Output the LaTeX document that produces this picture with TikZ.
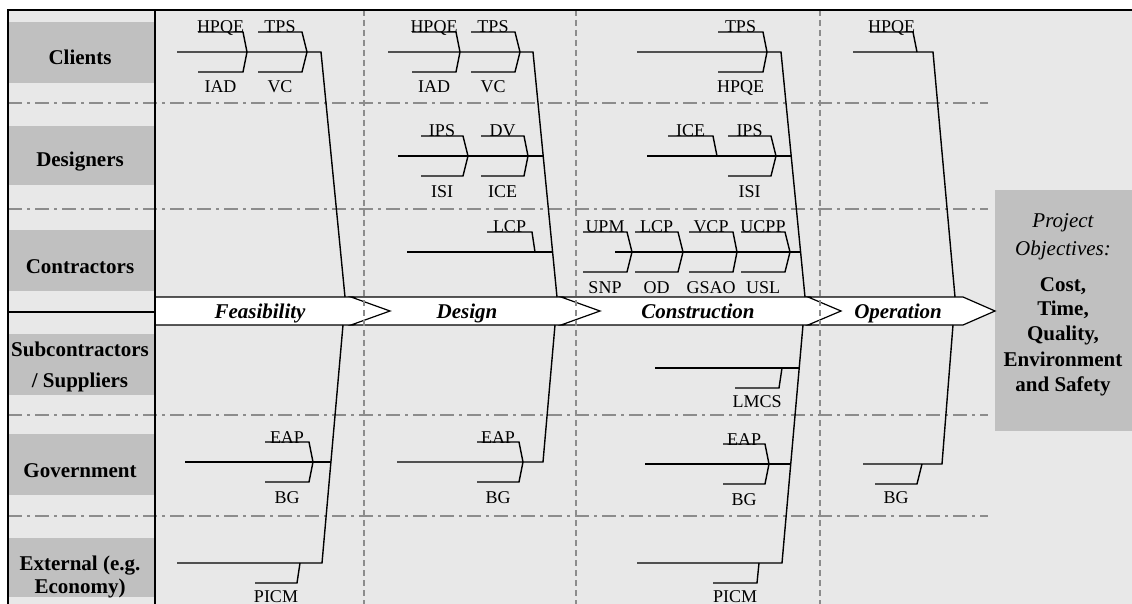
\documentclass[tikz,border=0pt]{standalone}
\usepackage{fontspec}
\setmainfont{Liberation Serif}
\definecolor{bggray}{HTML}{E8E8E8}
\definecolor{boxgray}{HTML}{C0C0C0}
\definecolor{dashgray}{HTML}{8C8C8C}
\tikzset{
  bone/.style={line width=1.4pt, line join=miter},
  sm/.style={font=\fontsize{18}{20}\selectfont, inner sep=0pt},
  lbl/.style={font=\fontsize{21}{24}\selectfont\bfseries, inner sep=0pt},
  obj/.style={font=\fontsize{21}{24}\selectfont\itshape, inner sep=0pt},
  phase/.style={font=\fontsize{21}{24}\selectfont\bfseries\itshape, inner sep=0pt},
  rowbox/.style={fill=boxgray, draw=none},
  dashdotline/.style={draw=dashgray, line width=1.3pt, dash pattern=on 14pt off 5pt on 3pt off 5pt},
  vdash/.style={draw=dashgray, line width=1.1pt, dash pattern=on 6pt off 4pt},
  band/.style={draw=black, fill=white, line width=1.2pt, line join=miter},
  frame/.style={line width=1.5pt}
}
% two-sided bracket: name, x left, x right, x tip, y mid, top label, bottom label
\newcommand{\brk}[7]{%
  \draw[bone] (#2,#5-20) -- (#3,#5-20) -- (#4,#5) -- (#3,#5+20) -- (#2,#5+20);
  \node[sm,anchor=base] (#1t) at ({(#2+#3)/2},#5-19) {#6};
  \node[sm,anchor=base] (#1b) at ({(#2+#3)/2},#5+41) {#7};
}
% top-only bracket
\newcommand{\tbr}[6]{%
  \draw[bone] (#2,#5-20) -- (#3,#5-20) -- (#4,#5);
  \node[sm,anchor=base] (#1t) at ({(#2+#3)/2},#5-19) {#6};
}
% bottom-only bracket
\newcommand{\bbr}[6]{%
  \draw[bone] (#4,#5) -- (#3,#5+20) -- (#2,#5+20);
  \node[sm,anchor=base] (#1b) at ({(#2+#3)/2},#5+39) {#6};
}
\begin{document}
\begin{tikzpicture}[x=1pt,y=-1pt]
\useasboundingbox (0,0) rectangle (1132,604);
% background
\fill[bggray] (8,10) rectangle (1132,604);
% row label boxes
\fill[rowbox] (9,22) rectangle (155,83);
\fill[rowbox] (9,126) rectangle (155,185);
\fill[rowbox] (9,230) rectangle (155,291);
\fill[rowbox] (9,334) rectangle (155,395);
\fill[rowbox] (9,434) rectangle (155,495);
\fill[rowbox] (9,538) rectangle (155,597);
\fill[rowbox] (995,190) rectangle (1132,431);
% horizontal dash-dot separators
\foreach \yy in {103,209,415,516} \draw[dashdotline] (8,\yy) -- (988,\yy);
% row labels
\node[lbl,anchor=base] (lc) at (80,65) {Clients};
\node[lbl,anchor=base] (ld) at (80,167) {Designers};
\node[lbl,anchor=base] (lk) at (80,273) {Contractors};
\node[lbl,anchor=base] (ls1) at (80,356) {Subcontractors};
\node[lbl,anchor=base] (ls2) at (80,387) {/ Suppliers};
\node[lbl,anchor=base] (lg) at (80,477) {Government};
\node[lbl,anchor=base] (le1) at (80,570) {External (e.g.};
\node[lbl,anchor=base] (le2) at (80,593) {Economy)};
% objectives
\node[obj,anchor=base] (po1) at (1063,228) {Project};
\node[obj,anchor=base] (po2) at (1063,255) {Objectives:};
\node[lbl,anchor=base] (po3) at (1063,291) {Cost,};
\node[lbl,anchor=base] (po4) at (1063,315) {Time,};
\node[lbl,anchor=base] (po5) at (1063,340) {Quality,};
\node[lbl,anchor=base] (po6) at (1063,366) {Environment};
\node[lbl,anchor=base] (po7) at (1063,391) {and Safety};
% phase band
\draw[band] (155,297) -- (353,297) -- (392,311) -- (353,325) -- (155,325) -- cycle;
\draw[band] (351,297) -- (563,297) -- (602,311) -- (563,325) -- (351,325) -- (390,311) -- cycle;
\draw[band] (561,297) -- (810,297) -- (843,311) -- (810,325) -- (561,325) -- (600,311) -- cycle;
\draw[band] (808,297) -- (963,297) -- (995,311) -- (963,325) -- (808,325) -- (841,311) -- cycle;
\node[phase,anchor=base] (ph1) at (260,318) {Feasibility};
\node[phase,anchor=base] (ph2) at (467,318) {Design};
\node[phase,anchor=base] (ph3) at (698,318) {Construction};
\node[phase,anchor=base] (ph4) at (898,318) {Operation};
% spine coordinates
\coordinate (p1t) at (321,52);  \coordinate (p1u) at (345,297);
\coordinate (p1d) at (343,325); \coordinate (p1b) at (322,563);
\coordinate (p2t) at (533,52);  \coordinate (p2u) at (557,297);
\coordinate (p2d) at (555,325); \coordinate (p2b) at (543,462);
\coordinate (p3t) at (781,52);  \coordinate (p3u) at (805,297);
\coordinate (p3d) at (803,325); \coordinate (p3b) at (782,563);
\coordinate (p4t) at (933,52);  \coordinate (p4u) at (955,297);
\coordinate (p4d) at (953,325); \coordinate (p4b) at (942,464);
% ---- Feasibility
\draw[bone] (177,52) -- (p1t) -- (p1u);
\brk{f1a}{198}{243}{247}{52}{HPQE}{IAD}
\brk{f1b}{258}{302}{307}{52}{TPS}{VC}
\draw[bone] (p1d) -- (p1b) -- (177,563);
\draw[bone] (185,462) -- (331,462);
\brk{f1g}{265}{309}{313}{462}{EAP}{BG}
\bbr{f1e}{255}{297}{300}{563}{PICM}
% ---- Design
\draw[bone] (388,52) -- (p2t) -- (p2u);
\brk{f2a}{412}{456}{460}{52}{HPQE}{IAD}
\brk{f2b}{471}{515}{520}{52}{TPS}{VC}
\draw[bone] (398,156) -- (543,156);
\brk{f2c}{421}{463}{468}{156}{IPS}{ISI}
\brk{f2d}{481}{524}{528}{156}{DV}{ICE}
\draw[bone] (407,252) -- (553,252);
\tbr{f2e}{487}{532}{535}{252}{LCP}
\draw[bone] (p2d) -- (p2b) -- (397,462);
\brk{f2g}{477}{519}{523}{462}{EAP}{BG}
% ---- Construction
\draw[bone] (637,52) -- (p3t) -- (p3u);
\brk{f3a}{718}{763}{767}{52}{TPS}{HPQE}
\draw[bone] (647,156) -- (791,156);
\tbr{f3c}{668}{713}{717}{156}{ICE}
\brk{f3d}{728}{771}{776}{156}{IPS}{ISI}
\draw[bone] (615,252) -- (800,252);
\brk{f3e}{583}{627}{632}{252}{UPM}{SNP}
\brk{f3f}{635}{678}{683}{252}{LCP}{OD}
\brk{f3g}{689}{733}{737}{252}{VCP}{GSAO}
\brk{f3h}{741}{785}{790}{252}{UCPP}{USL}
\draw[bone] (p3d) -- (p3b) -- (637,563);
\draw[bone] (655,368) -- (799,368);
\bbr{f3s}{735}{779}{782}{368}{LMCS}
\draw[bone] (645,464) -- (791,464);
\brk{f3k}{723}{765}{769}{464}{EAP}{BG}
\bbr{f3x}{713}{757}{759}{563}{PICM}
% ---- Operation
\draw[bone] (853,52) -- (p4t) -- (p4u);
\tbr{f4a}{870}{913}{917}{52}{HPQE}
\draw[bone] (p4d) -- (p4b) -- (863,464);
\bbr{f4g}{875}{917}{922}{464}{BG}
% vertical dashed phase separators
\foreach \xx in {364,576,820} \draw[vdash] (\xx,10) -- (\xx,604);
% frame
\draw[frame] (8,604) -- (8,10) -- (1132,10);
\draw[frame] (155,10) -- (155,604);
\draw[line width=1.3pt] (8,312) -- (155,312);
\end{tikzpicture}
\end{document}
